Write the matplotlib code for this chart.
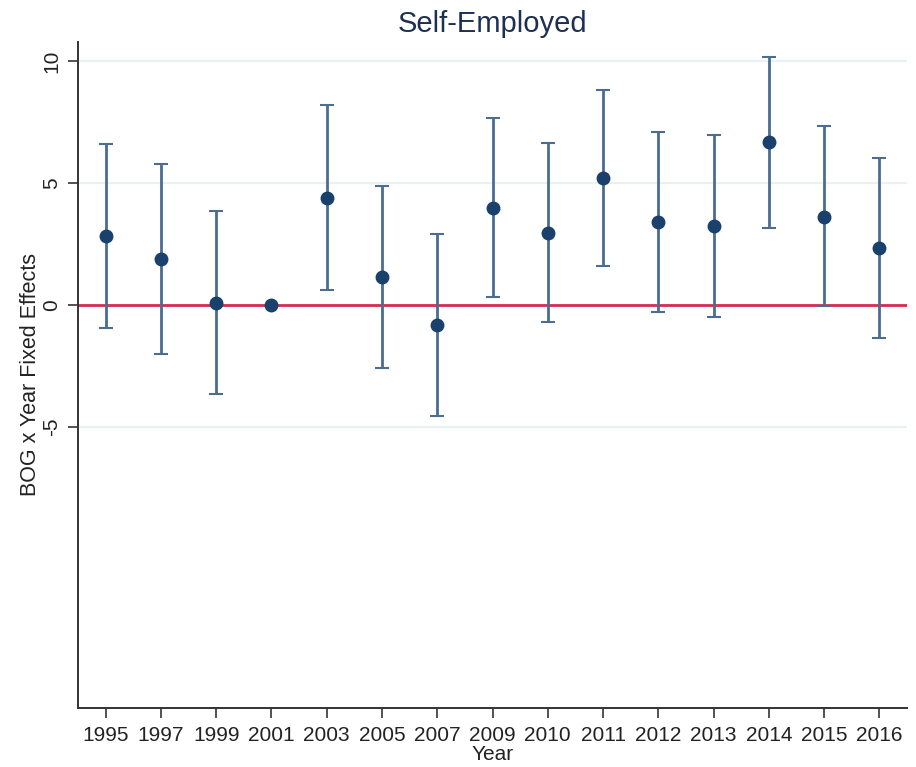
import matplotlib
matplotlib.use("Agg")
import matplotlib.pyplot as plt
import numpy as np

plt.rcParams['font.family'] = ['Liberation Sans', 'DejaVu Sans']

years = ["1995", "1997", "1999", "2001", "2003", "2005", "2007", "2009",
         "2010", "2011", "2012", "2013", "2014", "2015", "2016"]
estimates = [2.82, 1.89, 0.09, 0.0, 4.40, 1.13, -0.82, 3.96,
             2.95, 5.19, 3.39, 3.22, 6.68, 3.61, 2.32]
upper = [6.61, 5.79, 3.85, 0.0, 8.22, 4.86, 2.91, 7.66,
         6.63, 8.81, 7.08, 6.98, 10.19, 7.32, 6.01]
lower = [-0.96, -2.01, -3.66, 0.0, 0.60, -2.60, -4.58, 0.33,
         -0.72, 1.59, -0.30, -0.51, 3.16, -0.04, -1.37]
yticks = [10, 5, 0, -5]

fig = plt.figure(figsize=(9.16, 7.67), dpi=100)
ax = fig.add_axes([78/916, (767-708)/767, 829/916, 666/767])

x = np.arange(len(years))
est = np.array(estimates)
up = np.array(upper)
lo = np.array(lower)

# grid lines
for yv in yticks:
    if yv != 0:
        ax.axhline(yv, color="#e9f1f2", lw=1.6, zorder=0)
ax.axhline(0, color="#d42b52", lw=2.0, zorder=1)

mask = ~((up == 0) & (lo == 0))
ax.errorbar(x[mask], est[mask], yerr=[est[mask]-lo[mask], up[mask]-est[mask]],
            fmt="none", ecolor="#4a6d91", elinewidth=2.0, capsize=5,
            capthick=1.5, zorder=2)
ax.plot(x, est, "o", color="#1a416b", markersize=9, zorder=3)

ax.set_xlim(-0.5, len(years) - 0.5)
ax.set_ylim(-16.56, 10.79)
ax.set_xticks(x)
ax.set_xticklabels(years)
ax.set_yticks(yticks)
ax.set_yticklabels([str(v) for v in yticks], rotation=90, va="center")

for s in ["top", "right"]:
    ax.spines[s].set_visible(False)
for s in ["left", "bottom"]:
    ax.spines[s].set_color("#333333")
    ax.spines[s].set_linewidth(1.4)

ax.tick_params(axis="both", colors="#333333", labelcolor="#222222",
               labelsize=15, length=7, width=1.2)
ax.tick_params(axis="x", pad=6)
ax.tick_params(axis="y", pad=5)

ax.set_xlabel("Year", fontsize=15, color="#222222", labelpad=0)
ax.set_ylabel("BOG x Year Fixed Effects", fontsize=15.5, color="#222222", labelpad=1)
ax.set_title("Self-Employed", fontsize=21, color="#1e2f50", pad=7)

fig.savefig("out.png", dpi=100)
